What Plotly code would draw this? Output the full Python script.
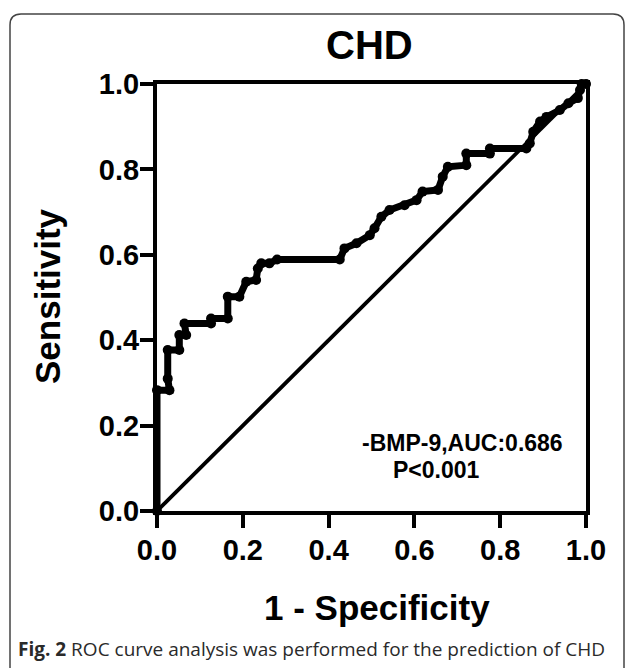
import plotly.graph_objects as go

# ROC curve (1 - specificity, sensitivity)
fpr = [0.0, 0.0, 0.029, 0.025, 0.025, 0.052, 0.052, 0.068, 0.064, 0.126, 0.126, 0.165,
       0.165, 0.192, 0.208, 0.231, 0.235, 0.243, 0.262, 0.280, 0.426, 0.437, 0.465,
       0.496, 0.507, 0.523, 0.542, 0.577, 0.605, 0.619, 0.655, 0.666, 0.678, 0.721,
       0.721, 0.776, 0.776, 0.861, 0.869, 0.877, 0.893, 0.908, 0.939, 0.959, 0.981,
       0.986, 0.990, 1.0]
sens = [0.0, 0.283, 0.283, 0.310, 0.377, 0.377, 0.412, 0.412, 0.439, 0.439, 0.451, 0.451,
        0.502, 0.502, 0.537, 0.541, 0.568, 0.580, 0.580, 0.589, 0.589, 0.615, 0.627,
        0.646, 0.662, 0.689, 0.705, 0.716, 0.728, 0.748, 0.752, 0.783, 0.806, 0.810,
        0.837, 0.837, 0.849, 0.849, 0.861, 0.888, 0.912, 0.923, 0.939, 0.955, 0.967,
        0.986, 1.0, 1.0]
ref_x = [0.0, 1.0]
ref_y = [0.0, 1.0]
tick_vals = [0.0, 0.2, 0.4, 0.6, 0.8, 1.0]
tick_text = ["0.0", "0.2", "0.4", "0.6", "0.8", "1.0"]

W, H = 627, 668
ML, MR, MT, MB = 157, 41, 84, 157
PW, PH = W - ML - MR, H - MT - MB


def px(x):
    return (x - ML) / PW


def py(y):
    return (H - MB - y) / PH


fig = go.Figure()
fig.add_trace(go.Scatter(x=ref_x, y=ref_y, mode="lines",
                         line=dict(color="black", width=3.8),
                         cliponaxis=False, hoverinfo="skip"))
fig.add_trace(go.Scatter(x=fpr, y=sens, mode="lines+markers",
                         line=dict(color="black", width=7),
                         marker=dict(color="black", size=10),
                         cliponaxis=False))

bold = dict(family="Liberation Sans, Arial, sans-serif", color="black", weight="bold")

axis_common = dict(range=[0, 1], tickvals=tick_vals, ticktext=tick_text,
                   showgrid=False, zeroline=False, showline=True, linecolor="black",
                   linewidth=4, mirror=True, ticks="outside", ticklen=13, tickwidth=3.5,
                   tickcolor="black", tickfont=dict(size=29, **bold), automargin=False)

fig.update_layout(
    width=W, height=H, margin=dict(l=ML, r=MR, t=MT, b=MB, autoexpand=False),
    paper_bgcolor="white", plot_bgcolor="white", showlegend=False,
    xaxis=dict(axis_common, ticklabelstandoff=-3),
    yaxis=dict(axis_common, ticklabelstandoff=-5),
)

# rounded figure border
x0, x1 = px(10), px(624)
y0, y1 = py(14), py(690)
rx, ry = 11 / PW, 11 / PH
path = (f"M {x0},{y1} L {x0},{y0 - ry} Q {x0},{y0} {x0 + rx},{y0} "
        f"L {x1 - rx},{y0} Q {x1},{y0} {x1},{y0 - ry} L {x1},{y1}")
fig.add_shape(type="path", path=path, xref="paper", yref="paper",
              line=dict(color="#444444", width=1.5))

ann = []
ann.append(dict(text="CHD", x=px(369), y=py(45), xref="paper", yref="paper",
                showarrow=False, xanchor="center", yanchor="middle",
                font=dict(size=40, **bold)))
ann.append(dict(text="1 - Specificity", x=px(377), y=py(607), xref="paper", yref="paper",
                showarrow=False, xanchor="center", yanchor="middle",
                font=dict(size=35, **bold)))
ann.append(dict(text="Sensitivity", x=px(47), y=py(296), xref="paper", yref="paper",
                showarrow=False, xanchor="center", yanchor="middle", textangle=-90,
                font=dict(size=35, **bold)))
ann.append(dict(text="-BMP-9,AUC:0.686", x=px(462), y=py(443), xref="paper", yref="paper",
                showarrow=False, xanchor="center", yanchor="middle",
                font=dict(size=23, **bold)))
ann.append(dict(text="P<0.001", x=px(436), y=py(470), xref="paper", yref="paper",
                showarrow=False, xanchor="center", yanchor="middle",
                font=dict(size=23, **bold)))
ann.append(dict(text="<b>Fig. 2</b> ROC curve analysis was performed for the prediction of CHD",
                x=px(16), y=py(649), xref="paper", yref="paper",
                showarrow=False, xanchor="left", yanchor="middle",
                font=dict(family="Open Sans, sans-serif", size=19, color="#2a2a2a")))
fig.update_layout(annotations=ann)

fig.write_html("out.html", config={"displayModeBar": False},
               post_script="document.body.style.margin='0';document.body.style.overflow='hidden';")
